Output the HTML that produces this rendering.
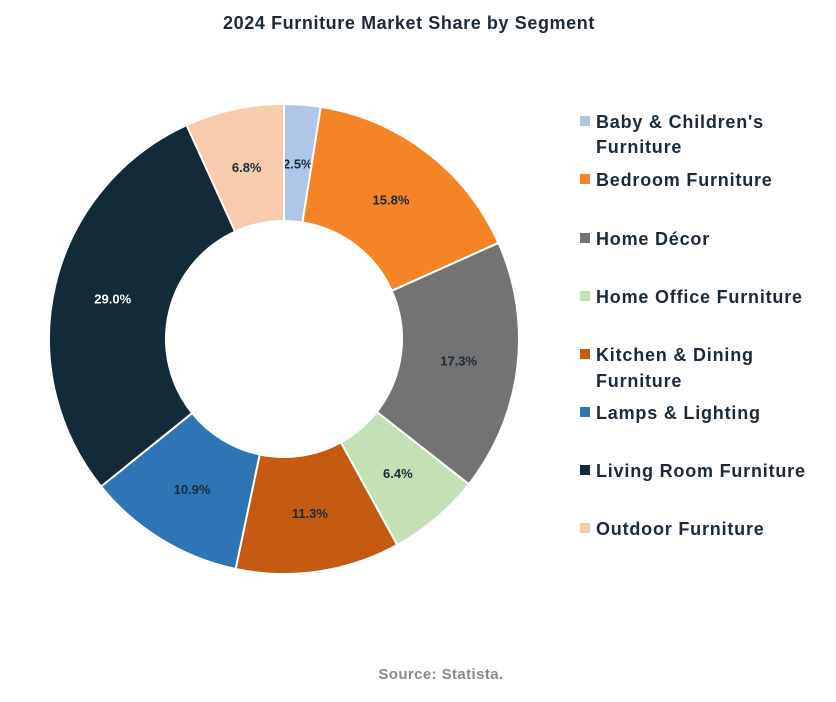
<!DOCTYPE html>
<html><head><meta charset="utf-8"><style>
body{margin:0;background:#fff;font-family:"Liberation Sans",sans-serif}
svg text{font-family:"Liberation Sans",sans-serif}
</style></head><body>
<svg id="s" width="836" height="697" xmlns="http://www.w3.org/2000/svg">
<text x="409" y="29" text-anchor="middle" font-size="18" letter-spacing="0.6" font-weight="bold" fill="#1a2a38">2024 Furniture Market Share by Segment</text>
<text x="441" y="679" text-anchor="middle" font-size="15" letter-spacing="0.4" font-weight="bold" fill="#8a8a8a">Source: Statista.</text>
<g id="pie"></g>
<g font-size="18" letter-spacing="0.8" font-weight="bold" fill="#1a2a38">
<rect x="580" y="116" width="10" height="10" fill="#aec6e8"/><text x="596" y="128">Baby &amp; Children's</text><text x="596" y="153">Furniture</text>
<rect x="580" y="174" width="10" height="10" fill="#f58426"/><text x="596" y="186">Bedroom Furniture</text>
<rect x="580" y="233" width="10" height="10" fill="#737373"/><text x="596" y="245">Home Décor</text>
<rect x="580" y="291" width="10" height="10" fill="#c5e0b4"/><text x="596" y="303">Home Office Furniture</text>
<rect x="580" y="349" width="10" height="10" fill="#c55a11"/><text x="596" y="361">Kitchen &amp; Dining</text><text x="596" y="387">Furniture</text>
<rect x="580" y="407" width="10" height="10" fill="#2e75b6"/><text x="596" y="419">Lamps &amp; Lighting</text>
<rect x="580" y="465" width="10" height="10" fill="#132a38"/><text x="596" y="477">Living Room Furniture</text>
<rect x="580" y="523" width="10" height="10" fill="#f8cbad"/><text x="596" y="535">Outdoor Furniture</text>
</g>
</svg>
<script>
var d=[[2.5,"#aec6e8","#1a2a38"],[15.8,"#f58426","#1a2a38"],[17.3,"#737373","#1a2a38"],[6.4,"#c5e0b4","#1a2a38"],[11.3,"#c55a11","#1a2a38"],[10.9,"#2e75b6","#1a2a38"],[29.0,"#132a38","#fff"],[6.8,"#f8cbad","#1a2a38"]];
var cx=284,cy=339,R=235,r=118,a=0,h="";
function p(rad,ang){return [cx+rad*Math.sin(ang),cy-rad*Math.cos(ang)];}
d.forEach(function(s){var a0=a/100*2*Math.PI;a+=s[0];var a1=a/100*2*Math.PI;var L=(a1-a0)>Math.PI?1:0;
var o0=p(R,a0),o1=p(R,a1),i1=p(r,a1),i0=p(r,a0);
h+='<path d="M'+o0+' A'+R+' '+R+' 0 '+L+' 1 '+o1+' L'+i1+' A'+r+' '+r+' 0 '+L+' 0 '+i0+'Z" fill="'+s[1]+'" stroke="#fff" stroke-width="2"/>';
var m=p(176,(a0+a1)/2);h+='<text x="'+m[0]+'" y="'+(m[1]+5)+'" text-anchor="middle" font-size="13" font-weight="bold" fill="'+s[2]+'">'+s[0].toFixed(1)+'%</text>';});
document.getElementById("pie").innerHTML=h;
</script>
</body></html>
